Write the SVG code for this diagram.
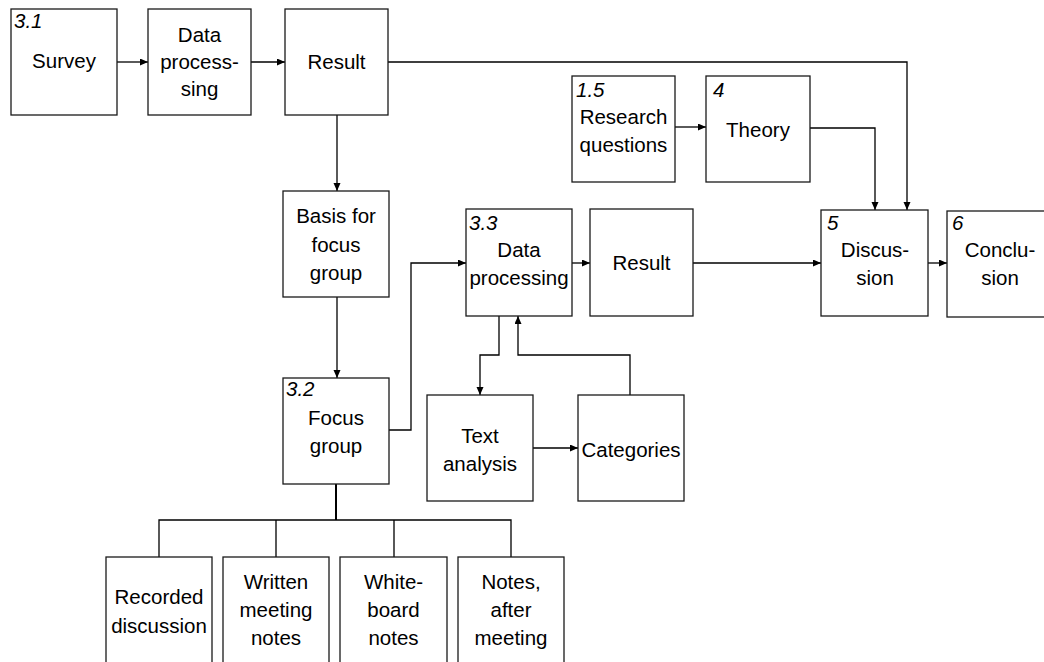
<svg xmlns="http://www.w3.org/2000/svg" width="1044" height="662" viewBox="0 0 1044 662">
<style>
.box{fill:#fff;stroke:#1a1a1a;stroke-width:1.3}
.t{font-family:"Liberation Sans",Arial,sans-serif;font-size:20.5px;fill:#000;text-anchor:middle}
.n{font-family:"Liberation Sans",Arial,sans-serif;font-size:20.5px;font-style:italic;fill:#000}
.c{fill:none;stroke:#000;stroke-width:1.3}
</style>
<defs>
<marker id="ah" markerUnits="userSpaceOnUse" markerWidth="9" markerHeight="8" refX="8" refY="3.5" orient="auto">
<path d="M0,0 L8,3.5 L0,7 z" fill="#000"/>
</marker>
</defs>
<rect width="1044" height="662" fill="#fff"/>
<g id="connectors">
<path class="c" d="M117,62 H148" marker-end="url(#ah)"/>
<path class="c" d="M251,62 H285" marker-end="url(#ah)"/>
<path class="c" d="M388,62 H907 V210" marker-end="url(#ah)"/>
<path class="c" d="M337,115 V191" marker-end="url(#ah)"/>
<path class="c" d="M337,297 V378" marker-end="url(#ah)"/>
<path class="c" d="M675,127 H706" marker-end="url(#ah)"/>
<path class="c" d="M810,128 H875 V210" marker-end="url(#ah)"/>
<path class="c" d="M389,430 H411 V263 H466" marker-end="url(#ah)"/>
<path class="c" d="M572,263 H590" marker-end="url(#ah)"/>
<path class="c" d="M693,263 H821" marker-end="url(#ah)"/>
<path class="c" d="M928,263 H947" marker-end="url(#ah)"/>
<path class="c" d="M499,316 V355 H480 V395" marker-end="url(#ah)"/>
<path class="c" d="M630,395 V355 H518 V316" marker-end="url(#ah)"/>
<path class="c" d="M533,448 H578" marker-end="url(#ah)"/>
<path class="c" d="M336,484 V520" style="stroke-width:2"/>
<path class="c" d="M159,557 V520 H511 V557 M276,520 V557 M394,520 V557"/>
</g>
<g id="survey">
<rect class="box" x="11" y="9" width="106" height="106"/>
<text class="n" x="14" y="28">3.1</text>
<text class="t" x="64" y="68">Survey</text>
</g>
<g id="data-processing-1">
<rect class="box" x="148" y="9" width="103" height="106"/>
<text class="t" x="199.5" y="42">Data</text>
<text class="t" x="199.5" y="69">process-</text>
<text class="t" x="199.5" y="96">sing</text>
</g>
<g id="result-1">
<rect class="box" x="285" y="9" width="103" height="106"/>
<text class="t" x="336.5" y="69">Result</text>
</g>
<g id="research-questions">
<rect class="box" x="572" y="76" width="103" height="106"/>
<text class="n" x="576" y="97">1.5</text>
<text class="t" x="623.5" y="124">Research</text>
<text class="t" x="623.5" y="152">questions</text>
</g>
<g id="theory">
<rect class="box" x="706" y="76" width="104" height="106"/>
<text class="n" x="713" y="97">4</text>
<text class="t" x="758" y="137">Theory</text>
</g>
<g id="basis">
<rect class="box" x="283" y="191" width="106" height="106"/>
<text class="t" x="336" y="223">Basis for</text>
<text class="t" x="336" y="252">focus</text>
<text class="t" x="336" y="280">group</text>
</g>
<g id="data-processing-2">
<rect class="box" x="466" y="209" width="106" height="107"/>
<text class="n" x="469" y="230">3.3</text>
<text class="t" x="519" y="257">Data</text>
<text class="t" x="519" y="285">processing</text>
</g>
<g id="result-2">
<rect class="box" x="590" y="209" width="103" height="107"/>
<text class="t" x="641.5" y="270">Result</text>
</g>
<g id="discussion">
<rect class="box" x="821" y="210" width="107" height="106"/>
<text class="n" x="827" y="230">5</text>
<text class="t" x="875" y="257">Discus-</text>
<text class="t" x="875" y="285">sion</text>
</g>
<g id="conclusion">
<rect class="box" x="947" y="211" width="106" height="106"/>
<text class="n" x="952" y="230">6</text>
<text class="t" x="1000" y="257">Conclu-</text>
<text class="t" x="1000" y="285">sion</text>
</g>
<g id="focus-group">
<rect class="box" x="283" y="378" width="106" height="106"/>
<text class="n" x="286" y="396">3.2</text>
<text class="t" x="336" y="425">Focus</text>
<text class="t" x="336" y="453">group</text>
</g>
<g id="text-analysis">
<rect class="box" x="427" y="395" width="106" height="106"/>
<text class="t" x="480" y="443">Text</text>
<text class="t" x="480" y="471">analysis</text>
</g>
<g id="categories">
<rect class="box" x="578" y="395" width="106" height="106"/>
<text class="t" x="631" y="457">Categories</text>
</g>
<g id="recorded">
<rect class="box" x="106" y="557" width="106" height="110"/>
<text class="t" x="159" y="604">Recorded</text>
<text class="t" x="159" y="633">discussion</text>
</g>
<g id="written">
<rect class="box" x="223" y="557" width="106" height="110"/>
<text class="t" x="276" y="589">Written</text>
<text class="t" x="276" y="617">meeting</text>
<text class="t" x="276" y="645">notes</text>
</g>
<g id="whiteboard">
<rect class="box" x="340" y="557" width="107" height="110"/>
<text class="t" x="393.5" y="589">White-</text>
<text class="t" x="393.5" y="617">board</text>
<text class="t" x="393.5" y="645">notes</text>
</g>
<g id="notes-after">
<rect class="box" x="458" y="557" width="106" height="110"/>
<text class="t" x="511" y="589">Notes,</text>
<text class="t" x="511" y="617">after</text>
<text class="t" x="511" y="645">meeting</text>
</g>
</svg>
